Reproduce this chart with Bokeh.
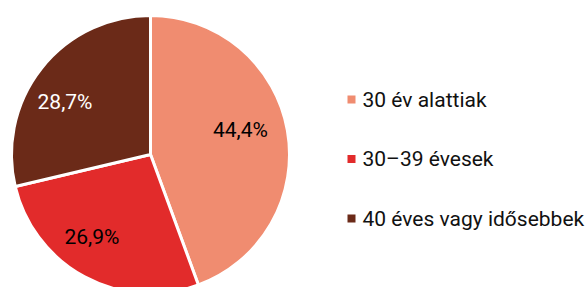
import math
from bokeh.plotting import figure
from bokeh.models import Range1d
from bokeh.core.properties import value
from bokeh.embed import file_html
from bokeh.resources import INLINE

categories = ["30 év alattiak", "30–39 évesek", "40 éves vagy idősebbek"]
shares = [44.4, 26.9, 28.7]
labels = ["44,4%", "26,9%", "28,7%"]
colors = ["#F08C70", "#E22B2B", "#6B2A18"]
label_colors = ["#000000", "#000000", "#FFFFFF"]

W, H = 587, 287
p = figure(width=W, height=H, output_backend="svg", toolbar_location=None,
           x_range=Range1d(0, W), y_range=Range1d(0, H), min_border=0)
p.axis.visible = False
p.grid.visible = False
p.outline_line_color = None
p.background_fill_color = "white"

cx, cy, r = 150, 133, 139
total = sum(shares)
starts, ends, mids = [], [], []
acc = 0.0
for s in shares:
    a0 = math.pi / 2 - acc / total * 2 * math.pi
    acc += s
    a1 = math.pi / 2 - acc / total * 2 * math.pi
    starts.append(a0)
    ends.append(a1)
    mids.append((a0 + a1) / 2)

p.wedge(x=[cx] * 3, y=[cy] * 3, radius=r, start_angle=starts, end_angle=ends,
        direction="clock", fill_color=colors, line_color="white", line_width=3)

# label placement: fraction of radius and angular tweak (degrees, ccw positive)
lr = [0.67, 0.73, 0.72]
ltw = [5, -7, 7]
lx = [cx + lr[i] * r * math.cos(m + math.radians(ltw[i])) for i, m in enumerate(mids)]
ly = [cy + lr[i] * r * math.sin(m + math.radians(ltw[i])) for i, m in enumerate(mids)]
p.text(x=lx, y=ly, text=labels, text_color=label_colors, text_align="center",
       text_baseline="middle", text_font=value("Roboto"), text_font_size="21px")

# legend
leg_y = [188 - 59.5 * i for i in range(3)]
p.scatter(x=[351] * 3, y=leg_y, marker="square", size=8, fill_color=colors, line_color=None)
p.text(x=[362] * 3, y=leg_y, text=categories, text_color="#111111", text_align="left",
       text_baseline="middle", text_font=value("Roboto"), text_font_size="21px")

open("out.html", "w").write(file_html(p, INLINE))
